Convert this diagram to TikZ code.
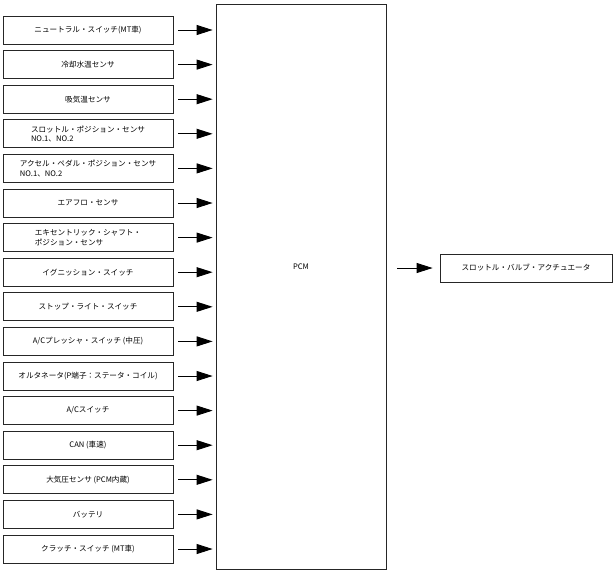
\documentclass[tikz,border=0pt]{standalone}
\usepackage{fontspec}
\setmainfont{Noto Sans CJK JP}
\usetikzlibrary{arrows.meta}
\begin{document}
\begin{tikzpicture}[x=1pt,y=-1pt,
  inbox/.style={draw=black!85, line width=0.8pt, minimum width=170pt, minimum height=28pt, inner sep=0pt, align=left, font=\fontsize{7.6}{9.5}\selectfont},
  arr/.style={line width=0.9pt, -{Triangle[length=16pt,width=10pt]}}]
\useasboundingbox (0,0) rectangle (615,573);
\node[draw=black!85, line width=0.8pt, minimum width=170pt, minimum height=565pt, inner sep=0pt] (pcm) at (301,286.5) {};
\node[font=\fontsize{7.6}{9.5}\selectfont] (pcmlabel) at (301,267) {PCM};
\foreach \t [count=\i from 0] in {
  {ニュートラル・スイッチ(MT車)},
  {冷却水温センサ},
  {吸気温センサ},
  {スロットル・ポジション・センサ\\NO.1、NO.2},
  {アクセル・ペダル・ポジション・センサ\\NO.1、NO.2},
  {エアフロ・センサ},
  {エキセントリック・シャフト・\\ポジション・センサ},
  {イグニッション・スイッチ},
  {ストップ・ライト・スイッチ},
  {A/Cプレッシャ・スイッチ (中圧)},
  {オルタネータ(P端子：ステータ・コイル)},
  {A/Cスイッチ},
  {CAN (車速)},
  {大気圧センサ (PCM内蔵)},
  {バッテリ},
  {クラッチ・スイッチ (MT車)}} {
  \node[inbox] (b\i) at (88,{30+34.6*\i}) {\t};
  \draw[arr] ([xshift=5pt]b\i.east) -- ([xshift=-3pt]pcm.west |- b\i.east);
}
\node[inbox, minimum width=172pt] (tva) at (526,268) {スロットル・バルブ・アクチュエータ};
\draw[arr] ([xshift=11pt]pcm.east |- tva.west) -- ([xshift=-7pt]tva.west);
\end{tikzpicture}
\end{document}
